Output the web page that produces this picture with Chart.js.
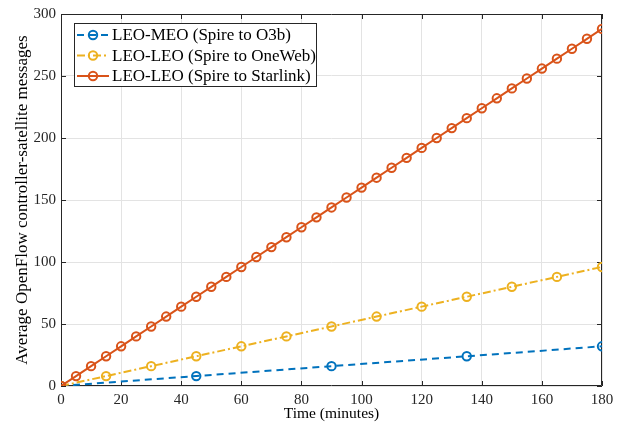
<!DOCTYPE html>
<html>
<head>
<meta charset="utf-8">
<script src="https://cdn.jsdelivr.net/npm/chart.js@4"></script>
<style>
html,body{margin:0;padding:0;background:#fff;}
#wrap{width:624px;height:424px;}
</style>
</head>
<body>
<div id="wrap"><canvas id="c" width="624" height="424"></canvas></div>
<script>
const xTitle = "Time (minutes)";
const yTitle = "Average OpenFlow controller-satellite messages";
const seriesNames = ["LEO-MEO (Spire to O3b)", "LEO-LEO (Spire to OneWeb)", "LEO-LEO (Spire to Starlink)"];
const o3bTimes = [0, 45, 90, 135, 180];
const o3bValues = [0, 8, 16, 24, 32];
const onewebTimes = [0, 15, 30, 45, 60, 75, 90, 105, 120, 135, 150, 165, 180];
const onewebValues = [0, 8, 16, 24, 32, 40, 48, 56, 64, 72, 80, 88, 96];
const starlinkTimes = [0,5,10,15,20,25,30,35,40,45,50,55,60,65,70,75,80,85,90,95,100,105,110,115,120,125,130,135,140,145,150,155,160,165,170,175,180];
const starlinkValues = [0,8,16,24,32,40,48,56,64,72,80,88,96,104,112,120,128,136,144,152,160,168,176,184,192,200,208,216,224,232,240,248,256,264,272,280,288];
const xTicks = [0,20,40,60,80,100,120,140,160,180];
const yTicks = [0,50,100,150,200,250,300];

const colors = ["#0072BD", "#EDB120", "#D95319"];
const dashes = [[7,5],[8,3,2,3],[]];
const FONT = "'Liberation Serif', 'Times New Roman', serif";
const AX = "#262626";

function pts(xs, ys){ return xs.map((x,i)=>({x:x, y:ys[i]})); }

const boxPlugin = {
  id: 'box',
  beforeDatasetsDraw(chart){
    const {ctx, chartArea:a, scales} = chart;
    ctx.save();
    ctx.strokeStyle = AX; ctx.lineWidth = 1;
    ctx.beginPath();
    ctx.rect(a.left+0.5, a.top+0.5, a.right-a.left-1, a.bottom-a.top-1);
    ctx.stroke();
    const L = 5;
    ctx.beginPath();
    xTicks.forEach(v=>{
      const px = Math.round(scales.x.getPixelForValue(v))+0.5;
      ctx.moveTo(px, a.bottom); ctx.lineTo(px, a.bottom-L);
      ctx.moveTo(px, a.top); ctx.lineTo(px, a.top+L);
    });
    yTicks.forEach(v=>{
      const py = Math.round(scales.y.getPixelForValue(v))+0.5;
      ctx.moveTo(a.left, py); ctx.lineTo(a.left+L, py);
      ctx.moveTo(a.right, py); ctx.lineTo(a.right-L, py);
    });
    ctx.stroke();
    ctx.restore();
  },
  afterDraw(chart){
    const {ctx} = chart;
    ctx.save();
    const bx=74.5, by=23.5, bw=242, bh=63;
    ctx.fillStyle="#fff"; ctx.fillRect(bx,by,bw,bh);
    ctx.strokeStyle=AX; ctx.lineWidth=1; ctx.strokeRect(bx,by,bw,bh);
    ctx.font = "17px " + FONT;
    ctx.textBaseline = "middle";
    for(let i=0;i<3;i++){
      const y = 35 + i*20.5;
      ctx.strokeStyle = colors[i]; ctx.lineWidth = 2;
      ctx.setLineDash(dashes[i]);
      ctx.beginPath(); ctx.moveTo(77,y); ctx.lineTo(109,y); ctx.stroke();
      ctx.setLineDash([]);
      ctx.beginPath(); ctx.arc(93,y,4.2,0,Math.PI*2); ctx.stroke();
      ctx.fillStyle = "#000";
      ctx.fillText(seriesNames[i], 112, y+1);
    }
    ctx.restore();
  }
};

const ds = [
  {label: seriesNames[0], data: pts(o3bTimes,o3bValues), order: 2},
  {label: seriesNames[1], data: pts(onewebTimes,onewebValues), order: 1},
  {label: seriesNames[2], data: pts(starlinkTimes,starlinkValues), order: 0}
].map((d,i)=>Object.assign(d,{
  borderColor: colors[i], backgroundColor: 'rgba(0,0,0,0)',
  borderWidth: 2, borderDash: dashes[i],
  pointRadius: 4.2, pointBorderWidth: 2, pointBorderColor: colors[i],
  pointBackgroundColor: 'rgba(0,0,0,0)', pointStyle: 'circle',
  tension: 0, fill: false
}));

new Chart(document.getElementById('c'), {
  type: 'line',
  data: { datasets: ds },
  options: {
    responsive: false, animation: false, devicePixelRatio: 1,
    layout: { padding: {top: 14, right: 22, left: 0, bottom: 0} },
    plugins: { legend: {display:false}, tooltip: {enabled:false} },
    scales: {
      x: {
        type: 'linear', min: 0, max: 180,
        afterBuildTicks(s){ s.ticks = xTicks.map(v=>({value:v})); },
        afterFit(s){ s.height = 38; },
        grid: { color: '#e3e3e3', drawTicks: false, lineWidth: 1 },
        border: { display: false },
        ticks: { color: AX, font: {family: FONT, size: 15}, padding: 5, maxRotation: 0 },
        title: { display: true, text: xTitle, color: '#000', font: {family: FONT, size: 15.5}, padding: {top: 0, bottom: 1} }
      },
      y: {
        type: 'linear', min: 0, max: 300,
        afterBuildTicks(s){ s.ticks = yTicks.map(v=>({value:v})); },
        afterFit(s){ s.width = 61; },
        grid: { color: '#e3e3e3', drawTicks: false, lineWidth: 1 },
        border: { display: false },
        ticks: { color: AX, font: {family: FONT, size: 15}, padding: 5 },
        title: { display: true, text: yTitle, color: '#000', font: {family: FONT, size: 17}, padding: {top: 12, bottom: 0} }
      }
    }
  },
  plugins: [boxPlugin]
});
</script>
</body>
</html>
